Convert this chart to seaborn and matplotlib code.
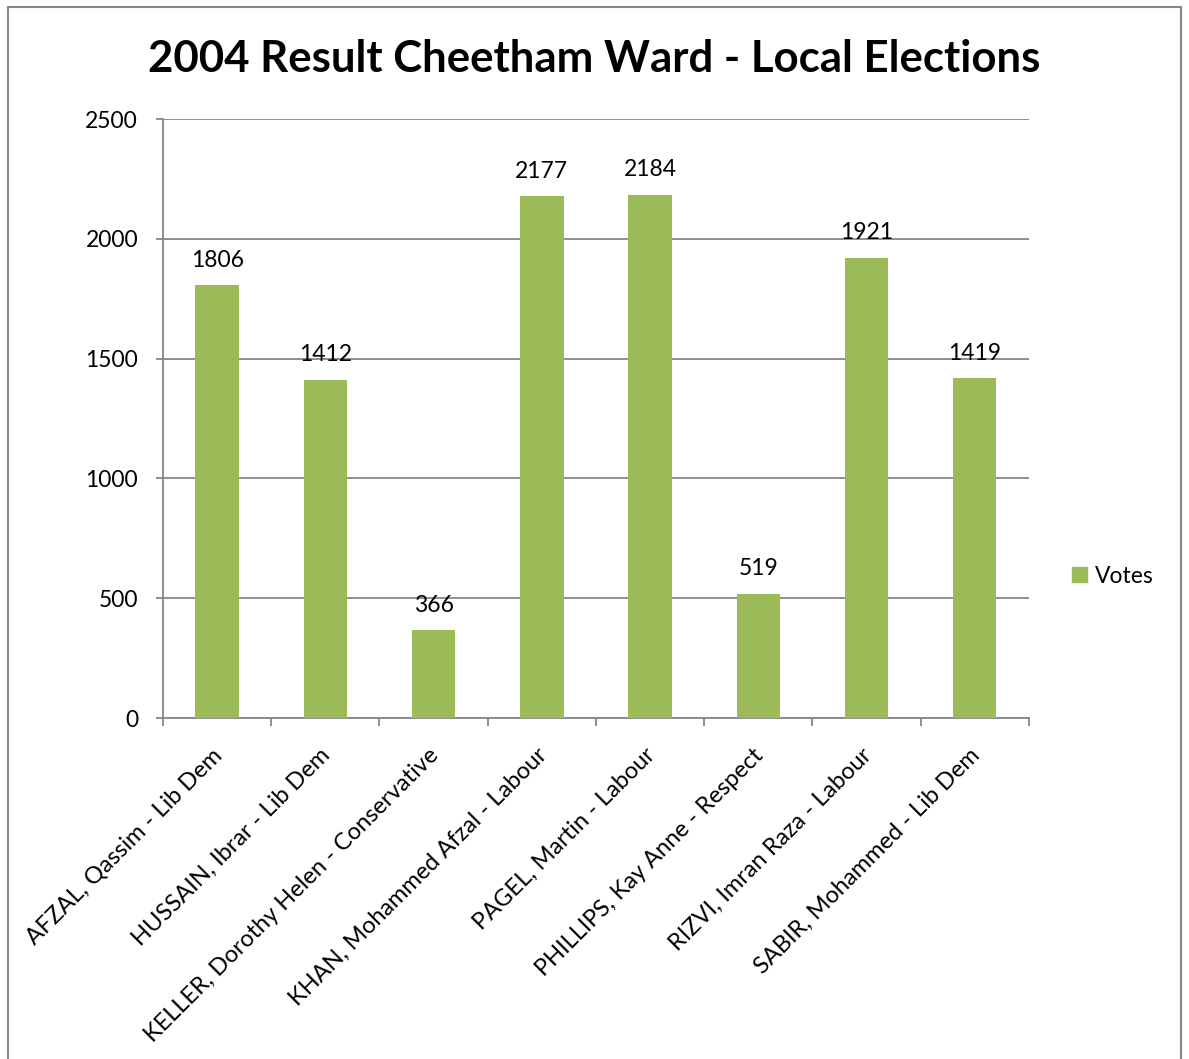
import matplotlib
matplotlib.use('Agg')
import matplotlib.pyplot as plt
import matplotlib.patches as mpatches
from matplotlib.transforms import ScaledTranslation
import pandas as pd
import seaborn as sns

# Candidates and votes
candidates = [
    'AFZAL, Qassim - Lib Dem',
    'HUSSAIN, Ibrar - Lib Dem',
    'KELLER, Dorothy Helen - Conservative',
    'KHAN, Mohammed Afzal - Labour',
    'PAGEL, Martin - Labour',
    'PHILLIPS, Kay Anne - Respect',
    'RIZVI, Imran Raza - Labour',
    'SABIR, Mohammed - Lib Dem',
]
votes = [1806, 1412, 366, 2177, 2184, 519, 1921, 1419]
y_ticks = [0, 500, 1000, 1500, 2000, 2500]

df = pd.DataFrame({'candidate': candidates, 'votes': votes})

sns.set_style('white')
plt.rcParams['font.family'] = ['Lato', 'DejaVu Sans']
plt.rcParams['text.color'] = 'black'
plt.rcParams['xtick.color'] = 'black'
plt.rcParams['ytick.color'] = 'black'

bar_color = '#9BBB59'
grid_color = '#868686'

fig = plt.figure(figsize=(11.89, 10.59), dpi=100)
ax = fig.add_axes([0.1371, 0.322, 0.7283, 0.5656])

sns.barplot(data=df, x='candidate', y='votes', color=bar_color, width=0.4,
            saturation=1, linewidth=0, ax=ax, zorder=3)

ax.set_xlim(-0.5, len(candidates) - 0.5)
ax.set_ylim(0, 2500)
ax.set_yticks(y_ticks)
ax.set_yticklabels([str(t) for t in y_ticks], fontsize=16.5)
ax.yaxis.grid(True, color=grid_color, linewidth=1.3, zorder=0)
ax.set_xlabel('')
ax.set_ylabel('')

# spines: left and bottom only
for side in ['top', 'right']:
    ax.spines[side].set_visible(False)
for side in ['left', 'bottom']:
    ax.spines[side].set_color(grid_color)
    ax.spines[side].set_linewidth(1.3)

# x ticks at category boundaries, labels at centres
ax.set_xticks([i - 0.5 for i in range(len(candidates) + 1)])
ax.set_xticklabels([])
ax.set_xticks(range(len(candidates)), minor=True)
ax.set_xticklabels(candidates, minor=True, rotation=45, ha='right',
                   va='top', rotation_mode='anchor', fontsize=17)
ax.tick_params(axis='x', which='major', direction='out', length=6,
               width=1.3, color=grid_color, bottom=True)
ax.tick_params(axis='x', which='minor', length=0, pad=19)
ax.tick_params(axis='y', direction='out', length=5, width=1.3,
               color=grid_color, left=True, pad=13)
shift = ScaledTranslation(-6 / 100, 0, fig.dpi_scale_trans)
for lab in ax.get_xticklabels(minor=True):
    lab.set_transform(lab.get_transform() + shift)

# value labels
for i, v in enumerate(votes):
    ax.text(i, v + 60, str(v), ha='center', va='bottom', fontsize=16.5)

fig.suptitle('2004 Result Cheetham Ward - Local Elections', fontsize=31.5,
             fontweight='bold', y=0.963)

# legend
handle = mpatches.Patch(color=bar_color, label='Votes')
fig.legend(handles=[handle], loc='center left', bbox_to_anchor=(0.884, 0.456),
           frameon=False, fontsize=16.5, handlelength=0.65, handleheight=0.65,
           handletextpad=0.35)

# outer chart border
border = mpatches.Rectangle((8 / 1189, -0.01), (1181 - 8) / 1189,
                            1 - 7.5 / 1059 + 0.01, transform=fig.transFigure,
                            fill=False, edgecolor='#868686', linewidth=1.5)
fig.patches.append(border)

fig.savefig('out.png', dpi=100)
